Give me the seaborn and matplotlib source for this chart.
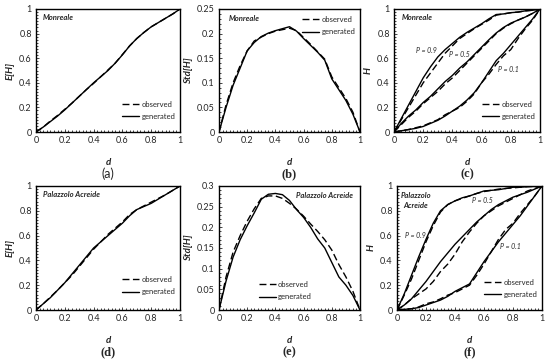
import numpy as np
import pandas as pd
import seaborn as sns
import matplotlib.pyplot as plt
from matplotlib.ticker import MultipleLocator, FuncFormatter

sns.set_style('ticks')
plt.rcParams['font.family'] = ['Lato', 'DejaVu Sans']

d = [0, .05, .1, .15, .2, .25, .3, .35, .4, .45, .5, .55, .6, .65, .7, .75, .8, .85, .9, .95, 1]

# Monreale
mon_mean_obs = [0, .04, .09, .135, .185, .235, .29, .345, .395, .45, .505, .56, .63, .70, .76, .81, .855, .89, .925, .96, 1]
mon_mean_gen = [0, .04, .085, .13, .18, .235, .29, .345, .40, .45, .50, .56, .627, .70, .76, .81, .855, .89, .925, .96, 1]
mon_std_obs = [0, .055, .10, .135, .165, .185, .193, .20, .205, .208, .211, .206, .192, .178, .163, .148, .112, .09, .068, .04, 0]
mon_std_gen = [0, .05, .095, .13, .165, .182, .194, .201, .206, .21, .214, .205, .19, .176, .162, .146, .108, .086, .064, .036, 0]
mon_p90_obs = [0, .10, .20, .30, .40, .48, .56, .64, .70, .76, .80, .84, .875, .91, .95, .96, .97, .975, .985, .99, 1]
mon_p90_gen = [0, .11, .22, .33, .44, .53, .61, .67, .72, .77, .81, .845, .88, .92, .955, .96, .97, .975, .985, .99, 1]
mon_p50_obs = [0, .06, .12, .17, .23, .28, .33, .39, .44, .50, .56, .62, .68, .74, .80, .845, .88, .91, .935, .965, 1]
mon_p50_gen = [0, .07, .13, .18, .24, .29, .35, .41, .46, .52, .57, .63, .69, .75, .805, .85, .885, .91, .935, .965, 1]
mon_p10_obs = [0, .01, .02, .035, .05, .075, .10, .14, .17, .20, .25, .31, .40, .47, .55, .62, .67, .76, .84, .91, 1]
mon_p10_gen = [0, .01, .02, .03, .045, .07, .095, .13, .17, .21, .26, .32, .40, .49, .58, .64, .71, .78, .85, .92, 1]

# Palazzolo Acreide
pal_mean_obs = [0, .05, .105, .16, .22, .28, .35, .42, .49, .55, .61, .66, .71, .77, .81, .84, .87, .90, .93, .965, 1]
pal_mean_gen = [0, .05, .10, .16, .22, .29, .36, .43, .50, .55, .60, .65, .70, .76, .81, .835, .86, .895, .93, .965, 1]
pal_std_obs = [0, .08, .14, .18, .215, .245, .27, .276, .276, .27, .258, .244, .227, .208, .19, .17, .145, .11, .08, .045, 0]
pal_std_gen = [0, .07, .128, .17, .204, .235, .268, .280, .282, .279, .265, .243, .224, .20, .172, .15, .115, .08, .06, .035, 0]
pal_p90_obs = [0, .12, .25, .40, .55, .68, .79, .85, .88, .90, .92, .94, .955, .965, .975, .98, .985, .99, .995, .997, 1]
pal_p90_gen = [0, .13, .28, .43, .57, .70, .80, .85, .88, .905, .92, .94, .96, .965, .97, .98, .99, .99, .995, .997, 1]
pal_p50_obs = [0, .04, .09, .13, .17, .23, .31, .37, .45, .55, .63, .70, .76, .80, .84, .87, .90, .93, .96, .98, 1]
pal_p50_gen = [0, .04, .09, .16, .23, .31, .39, .46, .53, .59, .65, .71, .76, .81, .85, .88, .91, .93, .95, .975, 1]
pal_p10_obs = [0, .005, .01, .025, .05, .065, .09, .12, .14, .17, .20, .28, .37, .47, .57, .65, .70, .78, .85, .92, 1]
pal_p10_gen = [0, .005, .01, .02, .04, .06, .08, .11, .15, .18, .21, .30, .39, .47, .55, .62, .69, .76, .84, .92, 1]

W, H = 550, 363
fig = plt.figure(figsize=(W / 100, H / 100), dpi=100)

def box(l, t, r, b):
    return [l / W, 1 - b / H, (r - l) / W, (b - t) / H]

axes = [fig.add_axes(box(36, 9, 180, 132)), fig.add_axes(box(219, 9, 360, 132)),
        fig.add_axes(box(394, 9, 540, 132)), fig.add_axes(box(36, 186, 180, 310)),
        fig.add_axes(box(219, 186, 360, 310)), fig.add_axes(box(397, 186, 542, 310))]

DASH = (5, 2.5)

def draw(ax, obs, gen, label=True):
    sns.lineplot(x=d, y=obs, ax=ax, color='k', lw=1.0,
                 label='observed' if label else None)
    ax.lines[-1].set_dashes(DASH)
    sns.lineplot(x=d, y=gen, ax=ax, color='k', lw=1.0,
                 label='generated' if label else None)

def style(ax, ylab, ymax, ystep, yminor, name, tag, leg_loc, leg_anchor, tagfont):
    ax.set_xlim(0, 1)
    ax.set_ylim(0, ymax)
    ax.xaxis.set_major_locator(MultipleLocator(0.2))
    ax.xaxis.set_minor_locator(MultipleLocator(0.025))
    ax.yaxis.set_major_locator(MultipleLocator(ystep))
    ax.yaxis.set_minor_locator(MultipleLocator(yminor))
    fmt = FuncFormatter(lambda v, p: '%g' % round(v, 3))
    ax.xaxis.set_major_formatter(fmt)
    ax.yaxis.set_major_formatter(fmt)
    ax.tick_params(which='both', direction='in', labelsize=6.5, pad=3, width=0.6)
    ax.tick_params(which='major', length=2.5)
    ax.tick_params(which='minor', length=1.5)
    for s in ax.spines.values():
        s.set_visible(True)
        s.set_linewidth(1.0)
        s.set_color('k')
    ax.set_xlabel('d', fontsize=7, fontweight='bold', fontstyle='italic', labelpad=9)
    ax.set_ylabel(ylab, fontsize=7, fontweight='bold', fontstyle='italic', labelpad=3)
    ax.text(name[1], name[2], name[0], transform=ax.transAxes, fontsize=5.5,
            fontweight='bold', fontstyle='italic', ha=name[3], va='top',
            linespacing=1.5, multialignment='center')
    ax.text(0.5, -0.34, tag, transform=ax.transAxes, ha='center', va='center',
            **tagfont)
    ax.legend(loc=leg_loc, bbox_to_anchor=leg_anchor, frameon=False, fontsize=5.5,
              handlelength=2.2, handletextpad=0.3, labelspacing=0.7,
              borderaxespad=0.2)

serif = dict(fontsize=9, fontweight='bold', family='Liberation Serif')
sans = dict(fontsize=9, family='Lato')

draw(axes[0], mon_mean_obs, mon_mean_gen)
style(axes[0], 'E[H]', 1, 0.2, 0.025, ('Monreale', 0.05, 0.96, 'left'), '(a)',
      'lower right', (1.0, 0.06), sans)

draw(axes[1], mon_std_obs, mon_std_gen)
style(axes[1], 'Std[H]', 0.25, 0.05, 0.01, ('Monreale', 0.07, 0.95, 'left'), '(b)',
      'upper right', (1.0, 0.98), serif)

ax = axes[2]
draw(ax, mon_p90_obs, mon_p90_gen)
draw(ax, mon_p50_obs, mon_p50_gen, label=False)
draw(ax, mon_p10_obs, mon_p10_gen, label=False)
ax.text(0.22, 0.66, 'P = 0.9', fontsize=5, fontstyle='italic', ha='center', va='center')
ax.text(0.45, 0.63, 'P = 0.5', fontsize=5, fontstyle='italic', ha='center', va='center')
ax.text(0.78, 0.51, 'P = 0.1', fontsize=5, fontstyle='italic', ha='center', va='center')
style(ax, 'H', 1, 0.2, 0.025, ('Monreale', 0.05, 0.96, 'left'), '(c)',
      'lower right', (1.0, 0.06), serif)

draw(axes[3], pal_mean_obs, pal_mean_gen)
style(axes[3], 'E[H]', 1, 0.2, 0.025, ('Palazzolo Acreide', 0.05, 0.96, 'left'), '(d)',
      'lower right', (1.0, 0.08), serif)

draw(axes[4], pal_std_obs, pal_std_gen)
style(axes[4], 'Std[H]', 0.3, 0.05, 0.01, ('Palazzolo Acreide', 0.95, 0.95, 'right'), '(e)',
      'lower center', (0.47, 0.04), serif)

ax = axes[5]
draw(ax, pal_p90_obs, pal_p90_gen)
draw(ax, pal_p50_obs, pal_p50_gen, label=False)
draw(ax, pal_p10_obs, pal_p10_gen, label=False)
ax.text(0.13, 0.60, 'P = 0.9', fontsize=5, fontstyle='italic', ha='center', va='center')
ax.text(0.59, 0.88, 'P = 0.5', fontsize=5, fontstyle='italic', ha='center', va='center')
ax.text(0.78, 0.51, 'P = 0.1', fontsize=5, fontstyle='italic', ha='center', va='center')
style(ax, 'H', 1, 0.2, 0.025, ('Palazzolo\nAcreide', 0.13, 0.95, 'center'), '(f)',
      'lower right', (1.0, 0.06), serif)

fig.savefig('out.png', dpi=100)
